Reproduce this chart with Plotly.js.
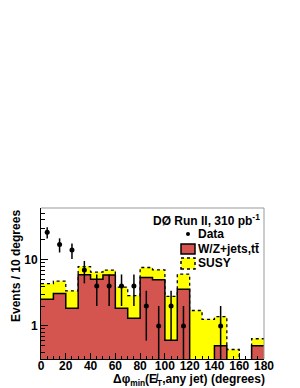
<!DOCTYPE html>
<html><head><meta charset="utf-8">
<script src="https://cdn.plot.ly/plotly-3.0.1.min.js"></script>
<style>body{margin:0;background:#fff}#c{width:300px;height:388px}</style>
</head><body><div id="c"></div>
<script>
// bin edges (degrees)
const binEdges = [0,10,20,30,40,50,60,70,80,90,100,110,120,130,140,150,160,170,180];
// W/Z+jets, ttbar background per bin
const bkg = [2.54,3.09,1.85,5.93,5.1,5.9,1.85,1.31,5.39,4.98,0.61,3.6,0.1,0.1,0.5,0.1,0.1,0.5];
// background + SUSY stacked total per bin
const bkgPlusSusy = [4.37,4.75,3.39,7.9,6.5,7.0,3.86,2.88,7.65,7.05,2.8,6.07,1.71,1.26,1.38,0.44,0.1,0.64];
// data points
const dataX = [5,15,25,35,45,55,65,75,85,95,105,115,145];
const dataY = [26,17,14,7,4,4,4,4,2,1,2,1,1];
const dataErr = [5.1,4.1,3.7,2.6,2,2,2,2,1.4,1,1.4,1,1];
// axis ticks
const xTickStep = 20;
const yTickVals = [1,10];
const yTickText = ['1','10'];
const yMinorVals = [0.4,0.5,0.6,0.7,0.8,0.9,2,3,4,5,6,7,8,9,20,30,40,50,60];

const FONT = 'Liberation Sans, Arial, sans-serif';
const RED = '#d4554f';
function stepY(v){ return v.concat([v[v.length-1]]); }

const L=41, R=264, T=208, B=359;
const px = x => (x-L)/(R-L);
const py = y => (B-y)/(B-T);

const traces = [
  {x: binEdges, y: stepY(bkgPlusSusy), type:'scatter', mode:'lines', line:{shape:'hv', color:'black', width:1.3, dash:'dot'},
   fill:'tozeroy', fillcolor:'#ffff00', hoverinfo:'skip'},
  {x: binEdges, y: stepY(bkg), type:'scatter', mode:'lines', line:{shape:'hv', color:'black', width:1.5},
   fill:'tozeroy', fillcolor:RED, hoverinfo:'skip'},
  {x: dataX, y: dataY, type:'scatter', mode:'markers', marker:{color:'black', size:5},
   error_y:{type:'data', array:dataErr, visible:true, color:'black', thickness:1.5, width:0}}
];

const tf = {family:FONT, size:12, color:'black', weight:'bold'};
const layout = {
  width:300, height:388, showlegend:false,
  paper_bgcolor:'white', plot_bgcolor:'white',
  margin:{l:L, r:300-R, t:T, b:388-B},
  xaxis:{range:[0,180], showline:true, linecolor:'black', linewidth:1, mirror:false,
    ticks:'inside', ticklen:6, tickwidth:1, tickcolor:'black', tick0:0, dtick:xTickStep,
    ticklabelstandoff:-4,
    minor:{dtick:5, ticks:'inside', ticklen:3, tickcolor:'black', tickwidth:1},
    tickfont:tf, showgrid:false, zeroline:false},
  yaxis:{type:'log', range:[-0.5,1.783], showline:true, linecolor:'black', linewidth:1,
    tickmode:'array', tickvals:yTickVals, ticktext:yTickText,
    ticks:'inside', ticklen:7, tickwidth:1, tickcolor:'black',
    minor:{tickmode:'array', tickvals:yMinorVals, ticks:'inside', ticklen:4, tickcolor:'black', tickwidth:1},
    tickfont:tf, showgrid:false, zeroline:false},
  shapes:[
    {type:'line', xref:'paper', yref:'paper', x0:0, x1:1, y0:1, y1:1, line:{color:'#999', width:1}},
    {type:'line', xref:'paper', yref:'paper', x0:1, x1:1, y0:0, y1:1, line:{color:'#999', width:1}},
    {type:'circle', xref:'paper', yref:'paper', x0:px(186), x1:px(190), y0:py(236), y1:py(232), fillcolor:'black', line:{width:0}},
    {type:'rect', xref:'paper', yref:'paper', x0:px(181), x1:px(195), y0:py(254), y1:py(244), fillcolor:RED, line:{color:'black', width:1.5}},
    {type:'rect', xref:'paper', yref:'paper', x0:px(181), x1:px(195), y0:py(269), y1:py(258), fillcolor:'#ffff00', line:{color:'black', width:1.5, dash:'dot'}}
  ],
  annotations:[
    {text:'DØ Run II, 310 pb<sup>-1</sup>', xref:'paper', yref:'paper', x:px(262), y:py(220), xanchor:'right', yanchor:'middle', showarrow:false, font:tf},
    {text:'Data', xref:'paper', yref:'paper', x:px(196), y:py(234), xanchor:'left', yanchor:'middle', showarrow:false, font:tf},
    {text:'W/Z+jets,tt\u0304', xref:'paper', yref:'paper', x:px(196), y:py(249), xanchor:'left', yanchor:'middle', showarrow:false, font:tf},
    {text:'SUSY', xref:'paper', yref:'paper', x:px(196), y:py(263), xanchor:'left', yanchor:'middle', showarrow:false, font:tf},
    {text:'Δφ<sub>min</sub>(E\u0338<sub>T</sub>,any jet) (degrees)', xref:'paper', yref:'paper', x:px(267), y:py(380), xanchor:'right', yanchor:'middle', showarrow:false, font:tf},
    {text:'Events / 10 degrees', xref:'paper', yref:'paper', x:px(16), y:1, xanchor:'center', yanchor:'top', textangle:-90, showarrow:false, font:tf}
  ]
};
Plotly.newPlot('c', traces, layout, {staticPlot:true});
</script></body></html>
